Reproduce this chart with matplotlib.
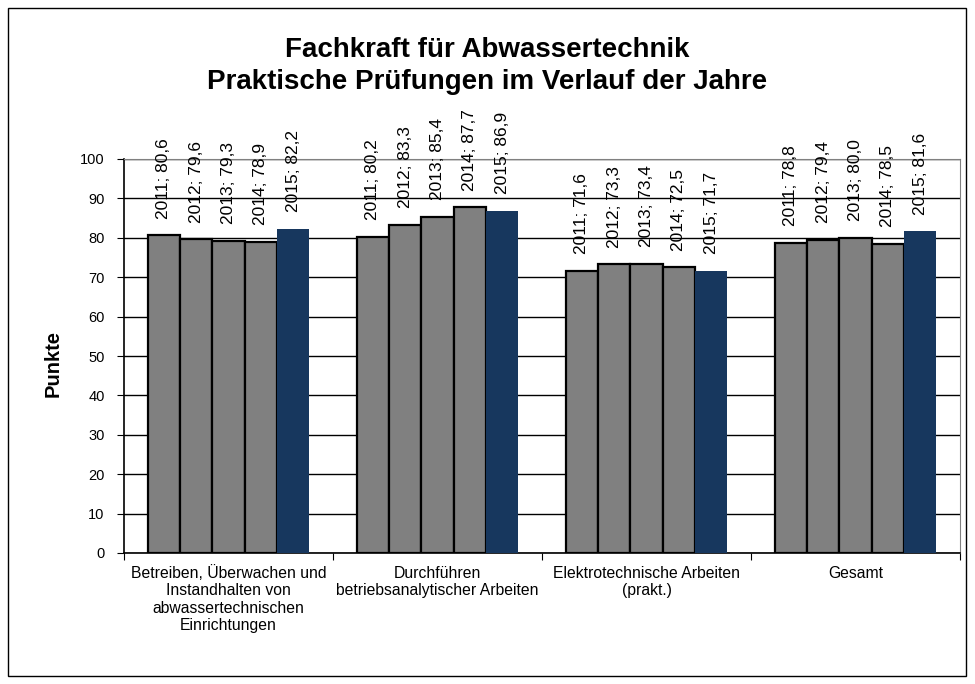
import matplotlib
matplotlib.use("Agg")
import matplotlib.pyplot as plt
from matplotlib.patches import Rectangle
import numpy as np

plt.rcParams['font.family'] = ['Liberation Sans', 'DejaVu Sans']

categories = ["Betreiben, Überwachen und\nInstandhalten von\nabwassertechnischen\nEinrichtungen",
              "Durchführen\nbetriebsanalytischer Arbeiten",
              "Elektrotechnische Arbeiten\n(prakt.)",
              "Gesamt"]
years = ["2011", "2012", "2013", "2014", "2015"]
values = {
    "2011": [80.6, 80.2, 71.6, 78.8],
    "2012": [79.6, 83.3, 73.3, 79.4],
    "2013": [79.3, 85.4, 73.4, 80.0],
    "2014": [78.9, 87.7, 72.5, 78.5],
    "2015": [82.2, 86.9, 71.7, 81.6],
}
colors = {"2011": "#808080", "2012": "#808080", "2013": "#808080",
          "2014": "#808080", "2015": "#17375E"}

fig = plt.figure(figsize=(9.75, 6.84), dpi=100)
fig.patches.append(Rectangle((8/975, 1-676/684), 958/975, 668/684, transform=fig.transFigure,
                             fill=False, edgecolor='black', linewidth=1.0))
ax = fig.add_axes([124/975, 1-553/684, 836/975, 394/684])

bw = 0.155
centers = np.arange(len(categories)) + 0.5
for i, y in enumerate(years):
    xs = centers + (i - 2) * bw
    vals = values[y]
    if y == "2015":
        ax.bar(xs, vals, width=bw, color=colors[y], edgecolor='none', zorder=3)
    else:
        ax.bar(xs, vals, width=bw, color=colors[y], edgecolor='black', linewidth=1.6, zorder=3)
    for x, v in zip(xs, vals):
        ax.annotate(f"{y}; {v:.1f}".replace('.', ','), (x, v), xytext=(0, 12),
                    textcoords='offset points', rotation=90, ha='center', va='bottom',
                    fontsize=12.5, color='black', zorder=4)

ax.set_xlim(0, 4)
ax.set_ylim(0, 100)
ax.set_yticks(np.arange(0, 101, 10))
ax.yaxis.grid(True, color='black', linewidth=1.0, zorder=0)
ax.set_axisbelow(True)
ax.set_xticks([0, 1, 2, 3, 4])
ax.set_xticklabels([])
ax.set_xticks(centers, minor=True)
ax.set_xticklabels(categories, minor=True, fontsize=11.3, linespacing=1.17)
ax.tick_params(axis='x', which='minor', length=0, pad=9)
ax.tick_params(axis='x', which='major', length=5, direction='out', color='black')
ax.tick_params(axis='y', length=5, direction='out', labelsize=10.5, pad=9)
for s in ['top', 'right']:
    ax.spines[s].set_color('#808080')
for s in ['left', 'bottom']:
    ax.spines[s].set_color('black')
    ax.spines[s].set_linewidth(1.2)
ax.set_ylabel("Punkte", fontsize=14.5, fontweight='bold')
ax.yaxis.set_label_coords(-0.074, 0.482)

fig.text(487/975, 1-66/684, "Fachkraft für Abwassertechnik\nPraktische Prüfungen im Verlauf der Jahre",
         ha='center', va='center', fontsize=20, fontweight='bold', linespacing=1.3)

fig.savefig("out.png", dpi=100)
